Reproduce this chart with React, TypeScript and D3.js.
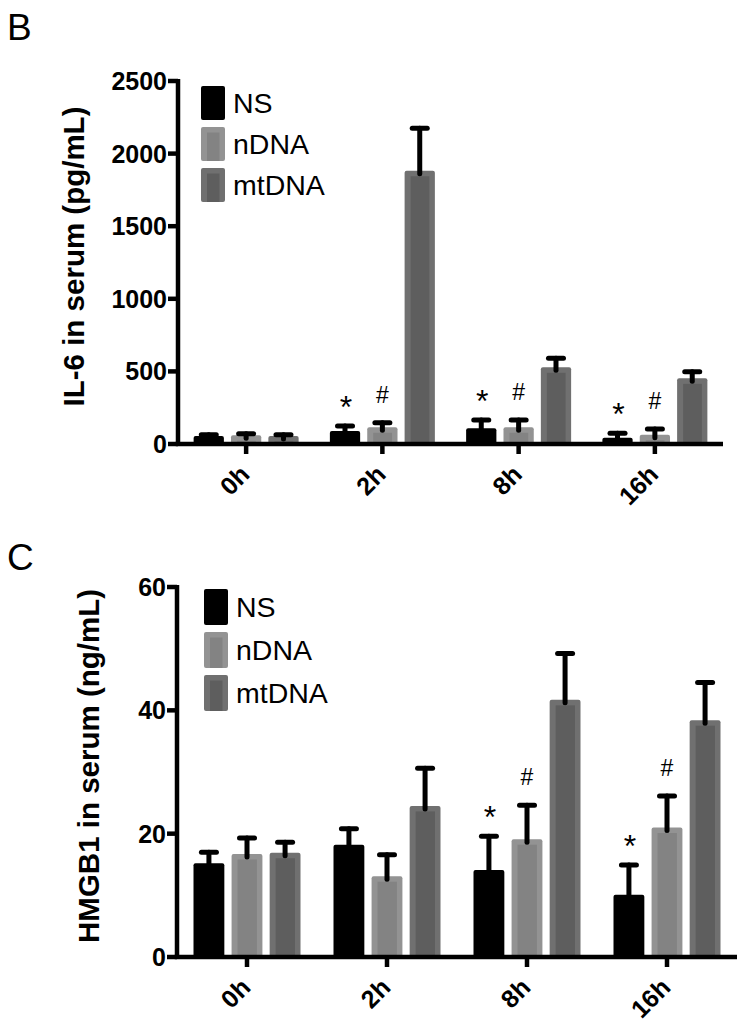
import * as d3 from "d3";

// ---- data ----
const categories = ["0h", "2h", "8h", "16h"];
const seriesNames = ["NS", "nDNA", "mtDNA"];

// panel B: IL-6 (pg/mL)
const il6Means = [
    [55, 90, 108, 43], // NS
    [60, 115, 115, 64], // nDNA
    [55, 1882, 528, 452], // mtDNA
];
const il6Errors = [
    [8, 34, 57, 31],
    [10, 32, 50, 39],
    [8, 292, 62, 46],
];
const il6Ticks = [0, 500, 1000, 1500, 2000, 2500];
const il6Marks = [
    { cat: 1, series: 0, text: "*" },
    { cat: 1, series: 1, text: "#" },
    { cat: 2, series: 0, text: "*" },
    { cat: 2, series: 1, text: "#" },
    { cat: 3, series: 0, text: "*" },
    { cat: 3, series: 1, text: "#" },
];

// panel C: HMGB1 (ng/mL)
const hmgbMeans = [
    [15.2, 18.2, 14.1, 10.1],
    [16.7, 13.1, 19.1, 21.0],
    [16.9, 24.5, 41.7, 38.4],
];
const hmgbErrors = [
    [1.8, 2.6, 5.5, 4.8],
    [2.6, 3.5, 5.5, 5.1],
    [1.7, 6.1, 7.5, 6.1],
];
const hmgbTicks = [0, 20, 40, 60];
const hmgbMarks = [
    { cat: 2, series: 0, text: "*" },
    { cat: 2, series: 1, text: "#" },
    { cat: 3, series: 0, text: "*" },
    { cat: 3, series: 1, text: "#" },
];

const FONT = "'Liberation Sans', Arial, Helvetica, sans-serif";
const outerFill = ["#000000", "#939393", "#707070"];
const innerFill = ["#000000", "#838383", "#5e5e5e"];

type Mark = { cat: number; series: number; text: string };

interface PanelProps {
    letter: string;
    letterY: number;
    title: string;
    titleX: number;
    means: number[][];
    errors: number[][];
    ticks: number[];
    marks: Mark[];
    left: number;
    right: number;
    top: number;
    bottom: number;
    groupWidth: number;
    legendX: number;
    legendY: number;
    legendH: number;
    legendStep: number;
}

function Bar({ x, y, w, h, s }: { x: number; y: number; w: number; h: number; s: number }) {
    if (s === 0) {
        return <rect x={x} y={y} width={w} height={h} rx={2} fill={outerFill[0]} />;
    }
    const inset = 6;
    return (
        <g>
            <rect x={x} y={y} width={w} height={h} rx={2} fill={outerFill[s]} />
            <rect
                x={x + inset}
                y={y + inset - 0.5}
                width={Math.max(0, w - inset * 2 + 0.5)}
                height={Math.max(0, h - inset + 0.5)}
                fill={innerFill[s]}
            />
        </g>
    );
}

function Panel(p: PanelProps) {
    const yMax = p.ticks[p.ticks.length - 1];
    const y = d3.scaleLinear().domain([0, yMax]).range([p.bottom, p.top]);
    const x = d3.scaleBand<string>().domain(categories).range([p.left, p.right]);
    const xs = d3
        .scaleBand<string>()
        .domain(seriesNames)
        .range([-p.groupWidth / 2, p.groupWidth / 2])
        .paddingInner(0.19);
    const bw = xs.bandwidth();
    const cx = (c: number) => (x(categories[c]) ?? 0) + x.bandwidth() / 2;
    const barCx = (c: number, s: number) => cx(c) + (xs(seriesNames[s]) ?? 0) + bw / 2;

    return (
        <g>
            <text x={7} y={p.letterY} fontFamily={FONT} fontSize={37}>
                {p.letter}
            </text>

            {/* bars */}
            {p.means.map((row, s) =>
                row.map((v, c) => (
                    <Bar
                        key={`b${s}-${c}`}
                        x={barCx(c, s) - bw / 2}
                        y={y(v)}
                        w={bw}
                        h={p.bottom - y(v)}
                        s={s}
                    />
                )),
            )}

            {/* error bars */}
            {p.means.map((row, s) =>
                row.map((v, c) => {
                    const bx = barCx(c, s);
                    const yt = y(v + p.errors[s][c]);
                    return (
                        <g key={`e${s}-${c}`} stroke="#000" strokeWidth={5} strokeLinecap="round">
                            <line x1={bx} x2={bx} y1={Math.min(y(v) + 3, p.bottom - 3)} y2={yt} />
                            <line x1={bx - 7.5} x2={bx + 7.5} y1={yt} y2={yt} />
                        </g>
                    );
                }),
            )}

            {/* significance marks */}
            {p.marks.map((m, i) => {
                const bx = barCx(m.cat, m.series);
                const yt = y(p.means[m.series][m.cat] + p.errors[m.series][m.cat]);
                const star = m.text === "*";
                return (
                    <text
                        key={`m${i}`}
                        x={bx + (star ? 1 : 0)}
                        y={star ? yt - 8 : yt - 20}
                        textAnchor="middle"
                        fontFamily={FONT}
                        fontSize={star ? 32 : 23}
                    >
                        {m.text}
                    </text>
                );
            })}

            {/* y axis */}
            <line x1={p.left} x2={p.left} y1={p.top - 2} y2={p.bottom} stroke="#000" strokeWidth={4.5} />
            {p.ticks.map((t) => (
                <g key={`t${t}`}>
                    <line x1={p.left - 10} x2={p.left} y1={y(t)} y2={y(t)} stroke="#000" strokeWidth={4.5} />
                    <text
                        x={p.left - 11}
                        y={y(t)}
                        dy="0.36em"
                        textAnchor="end"
                        fontFamily={FONT}
                        fontWeight="bold"
                        fontSize={25}
                    >
                        {t}
                    </text>
                </g>
            ))}
            <text
                transform={`translate(${p.titleX},${(p.top + p.bottom) / 2 - 6}) rotate(-90)`}
                textAnchor="middle"
                fontFamily={FONT}
                fontWeight="bold"
                fontSize={29.5}
            >
                {p.title}
            </text>

            {/* x axis */}
            <line x1={p.left - 2.25} x2={p.right} y1={p.bottom} y2={p.bottom} stroke="#000" strokeWidth={4.5} />
            {categories.map((c, i) => (
                <g key={`x${c}`}>
                    <line x1={cx(i)} x2={cx(i)} y1={p.bottom} y2={p.bottom + 10} stroke="#000" strokeWidth={4.5} />
                    <text
                        transform={`translate(${cx(i) + 5},${p.bottom + 32}) rotate(-45)`}
                        textAnchor="end"
                        fontFamily={FONT}
                        fontWeight="bold"
                        fontSize={25}
                    >
                        {c}
                    </text>
                </g>
            ))}

            {/* legend */}
            {seriesNames.map((n, s) => {
                const ly = p.legendY + s * p.legendStep;
                return (
                    <g key={`l${n}`}>
                        <Bar x={p.legendX} y={ly} w={24} h={p.legendH} s={s} />
                        <text
                            x={p.legendX + 32}
                            y={ly + p.legendH / 2}
                            dy="0.36em"
                            fontFamily={FONT}
                            fontSize={28.5}
                        >
                            {n}
                        </text>
                    </g>
                );
            })}
        </g>
    );
}

export default function App() {
    return (
        <div style={{ position: "absolute", left: 0, top: 0 }}>
            <svg width={744} height={1024} style={{ display: "block", background: "#fff" }}>
                <Panel
                    letter="B"
                    letterY={40}
                    title="IL-6 in serum (pg/mL)"
                    titleX={84}
                    means={il6Means}
                    errors={il6Errors}
                    ticks={il6Ticks}
                    marks={il6Marks}
                    left={178}
                    right={723}
                    top={81}
                    bottom={444}
                    groupWidth={105}
                    legendX={201}
                    legendY={86}
                    legendH={34}
                    legendStep={41}
                />
                <Panel
                    letter="C"
                    letterY={570}
                    title="HMGB1 in serum (ng/mL)"
                    titleX={99}
                    means={hmgbMeans}
                    errors={hmgbErrors}
                    ticks={hmgbTicks}
                    marks={hmgbMarks}
                    left={177}
                    right={737}
                    top={587}
                    bottom={957}
                    groupWidth={107}
                    legendX={204}
                    legendY={589}
                    legendH={36}
                    legendStep={43}
                />
            </svg>
        </div>
    );
}
